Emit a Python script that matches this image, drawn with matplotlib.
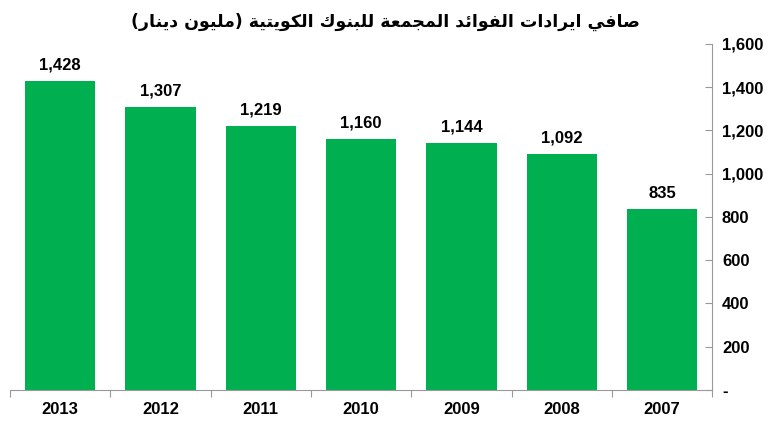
import matplotlib
matplotlib.use("Agg")
import matplotlib.pyplot as plt
from matplotlib.ticker import FuncFormatter

years = ["2013", "2012", "2011", "2010", "2009", "2008", "2007"]
income = [1428, 1307, 1219, 1160, 1144, 1092, 835]
y_ticks = [0, 200, 400, 600, 800, 1000, 1200, 1400, 1600]
title = "صافي ايرادات الفوائد المجمعة للبنوك الكويتية (مليون دينار)"

# presentation forms: isolated, final, initial, medial
FORMS = {
    "ا": (0xFE8D, 0xFE8E), "ب": (0xFE8F, 0xFE90, 0xFE91, 0xFE92),
    "ة": (0xFE93, 0xFE94), "ت": (0xFE95, 0xFE96, 0xFE97, 0xFE98),
    "ج": (0xFE9D, 0xFE9E, 0xFE9F, 0xFEA0), "د": (0xFEA9, 0xFEAA),
    "ر": (0xFEAD, 0xFEAE), "ص": (0xFEB9, 0xFEBA, 0xFEBB, 0xFEBC),
    "ع": (0xFEC9, 0xFECA, 0xFECB, 0xFECC), "ف": (0xFED1, 0xFED2, 0xFED3, 0xFED4),
    "ك": (0xFED9, 0xFEDA, 0xFEDB, 0xFEDC), "ل": (0xFEDD, 0xFEDE, 0xFEDF, 0xFEE0),
    "م": (0xFEE1, 0xFEE2, 0xFEE3, 0xFEE4), "ن": (0xFEE5, 0xFEE6, 0xFEE7, 0xFEE8),
    "و": (0xFEED, 0xFEEE), "ي": (0xFEF1, 0xFEF2, 0xFEF3, 0xFEF4),
    "ئ": (0xFE89, 0xFE8A, 0xFE8B, 0xFE8C),
}


def shape_arabic(text):
    out = []
    for i, ch in enumerate(text):
        if ch not in FORMS:
            out.append(ch)
            continue
        prev = text[i - 1] if i > 0 else ""
        nxt = text[i + 1] if i + 1 < len(text) else ""
        jp = prev in FORMS and len(FORMS[prev]) == 4
        jn = len(FORMS[ch]) == 4 and nxt in FORMS
        f = FORMS[ch]
        if jp and jn:
            out.append(chr(f[3]))
        elif jp:
            out.append(chr(f[1]))
        elif jn:
            out.append(chr(f[2]))
        else:
            out.append(chr(f[0]))
    vis = "".join(reversed(out))
    return vis.translate(str.maketrans("()", ")("))


plt.rcParams["font.family"] = ["Liberation Sans", "DejaVu Sans"]

fig = plt.figure(figsize=(7.7, 4.22), dpi=100)
ax = fig.add_axes([0.013, 0.076, 0.912, 0.82])

x = list(range(len(years)))
ax.bar(x, income, width=0.7, color="#00B050")
for xi, v in zip(x, income):
    ax.annotate(f"{v:,}", (xi, v), xytext=(0, 6), textcoords="offset points",
                ha="center", va="bottom", fontsize=12, fontweight="bold")

ax.set_xlim(-0.5, len(years) - 0.5)
ax.set_ylim(0, 1600)
ax.set_xticks([i - 0.5 for i in range(len(years) + 1)])
ax.set_xticklabels([])
ax.set_xticks(x, minor=True)
ax.set_xticklabels(years, minor=True, fontsize=12, fontweight="bold")
ax.tick_params(axis="x", which="major", direction="out", length=5, color="#999999")
ax.tick_params(axis="x", which="minor", length=0, pad=9)

ax.yaxis.tick_right()
ax.set_yticks(y_ticks)
ax.yaxis.set_major_formatter(FuncFormatter(lambda v, p: "-" if v == 0 else f"{int(v):,}"))
ax.tick_params(axis="y", direction="in", length=5, color="#999999", pad=7, labelsize=12)
for lbl in ax.get_yticklabels():
    lbl.set_fontweight("bold")

for s in ["top", "left"]:
    ax.spines[s].set_visible(False)
for s in ["bottom", "right"]:
    ax.spines[s].set_color("#999999")

fig.text(0.5, 0.948, shape_arabic(title), ha="center", va="center",
         fontsize=12.5, fontweight="bold", family=["DejaVu Sans"])

fig.savefig("out.png", dpi=100)
